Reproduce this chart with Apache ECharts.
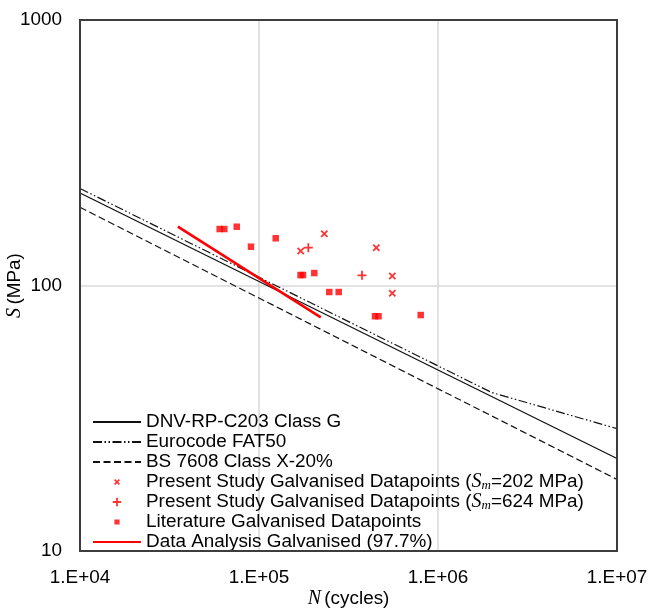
<!DOCTYPE html>
<html>
<head>
<meta charset="utf-8">
<script src="https://cdn.jsdelivr.net/npm/echarts@6/dist/echarts.min.js"></script>
<style>
  html, body { margin: 0; padding: 0; background: #fff; }
  #main { width: 649px; height: 609px; }
</style>
</head>
<body>
<div id="main"></div>
<script>
// design curves, [N, S]
const dnvClassG = [[1e4, 223], [1e7, 22.3]];
const eurocodeFat50 = [[1e4, 232], [2e6, 39.5], [1e7, 28.9]];
const bs7608X20 = [[1e4, 197], [1e7, 18.6]];
const analysisGalv = [[35200, 166.5], [221400, 75.9]];

// test points, [N, S]
const presentSm202 = [[171000, 134.9], [231700, 156.7], [452300, 138.8], [555500, 108.6], [555500, 93.5]];
const presentSm624 = [[188600, 138.8], [376200, 109.2]];
const literaturePts = [
  [60300, 163.2], [64000, 163.2], [75100, 166.5], [90200, 140.0], [124000, 150.6],
  [170600, 109.5], [176100, 109.5], [203700, 111.4], [247000, 94.5], [278800, 94.5],
  [444600, 76.6], [465200, 76.6], [800700, 77.4]
];

const xTickLabels = ['1.E+04', '1.E+05', '1.E+06', '1.E+07'];
const yTickLabels = ['10', '100', '1000'];

const FONT = 'Liberation Sans';
const SERIF = 'Liberation Serif';
const RED = '#ff0000';
const FS = 18.9;
const G = { left: 80, right: 32, top: 20, bottom: 58 };

// marker shapes (filled paths so they keep their proportions)
const plusPath = 'path://M4,0H6V4H10V6H6V10H4V6H0V4H4Z';
const crossPath = 'path://M0,1.7L1.7,0L5,3.3L8.3,0L10,1.7L6.7,5L10,8.3L8.3,10L5,6.7L1.7,10L0,8.3L3.3,5Z';
const squarePath = 'path://M0,0H10V10H0Z';
// legend versions, padded with tiny corner dots so they come out smaller
const pad = 'M0,0h0.01v0.01h-0.01ZM10,10h0.01v0.01h-0.01Z';
const plusIcon = 'path://' + pad + 'M4.1,0.8H5.9V4.1H9.2V5.9H5.9V9.2H4.1V5.9H0.8V4.1H4.1Z';
const crossIcon = 'path://' + pad + 'M2,3.2L3.2,2L5,3.8L6.8,2L8,3.2L6.2,5L8,6.8L6.8,8L5,6.2L3.2,8L2,6.8L3.8,5Z';
const squareIcon = 'path://' + pad + 'M2.4,2.4H7.6V7.6H2.4Z';
const noDot = { color: 'rgba(0,0,0,0)', borderWidth: 0 };

const rich = {
  t: { fontFamily: FONT, fontSize: FS, lineHeight: 20, color: '#000' },
  i: { fontFamily: SERIF, fontStyle: 'italic', fontSize: 20, lineHeight: 20, color: '#000' },
  sub: { fontFamily: SERIF, fontStyle: 'italic', fontSize: 13, lineHeight: 12, verticalAlign: 'bottom', color: '#000' }
};

const NAME_202 = 'Present Study Galvanised Datapoints (Sm=202 MPa)';
const NAME_624 = 'Present Study Galvanised Datapoints (Sm=624 MPa)';

const chart = echarts.init(document.getElementById('main'));

chart.setOption({
  animation: false,
  textStyle: { fontFamily: FONT },
  grid: {
    left: G.left, right: G.right, top: G.top, bottom: G.bottom,
    outerBoundsMode: 'none',
    containLabel: false
  },
  // plot frame, drawn above the grid lines
  graphic: [{
    type: 'rect', z: 100, silent: true,
    shape: { x: G.left, y: G.top, width: 649 - G.left - G.right, height: 609 - G.top - G.bottom },
    style: { fill: null, stroke: '#3d3d3d', lineWidth: 2 }
  }],
  legend: {
    orient: 'vertical',
    left: 92,
    top: 412,
    padding: 0,
    itemGap: 0,
    itemWidth: 48,
    itemHeight: 10,
    textStyle: { fontFamily: FONT, fontSize: FS, lineHeight: 20, color: '#000', rich },
    formatter(name) {
      if (name === NAME_202 || name === NAME_624) {
        const sm = name === NAME_202 ? '202' : '624';
        return '{t|Present Study Galvanised Datapoints (}{i|S}{sub|m}{t|=' + sm + ' MPa)}';
      }
      return '{t|' + name + '}';
    },
    data: [
      { name: 'DNV-RP-C203 Class G', itemStyle: noDot },
      { name: 'Eurocode FAT50', itemStyle: noDot },
      { name: 'BS 7608 Class X-20%', itemStyle: noDot },
      { name: NAME_202, icon: crossIcon },
      { name: NAME_624, icon: plusIcon },
      { name: 'Literature Galvanised Datapoints', icon: squareIcon },
      { name: 'Data Analysis Galvanised (97.7%)', itemStyle: noDot }
    ]
  },
  xAxis: {
    type: 'log', logBase: 10, min: 1e4, max: 1e7,
    name: '{i|N} {t|(cycles)}',
    nameLocation: 'middle',
    nameGap: 38,
    nameMoveOverlap: false,
    nameTextStyle: { rich },
    axisLine: { show: false },
    axisTick: { show: false },
    axisLabel: {
      fontSize: FS, color: '#000', margin: 17,
      formatter: v => xTickLabels[Math.round(Math.log10(v)) - 4]
    },
    splitLine: { show: true, lineStyle: { color: '#d9d9d9', width: 1.5 } }
  },
  yAxis: {
    type: 'log', logBase: 10, min: 10, max: 1000,
    name: '{i|S} {t|(MPa)}',
    nameLocation: 'middle',
    nameGap: 55,
    nameMoveOverlap: false,
    nameTextStyle: { rich },
    axisLine: { show: false },
    axisTick: { show: false },
    axisLabel: {
      fontSize: FS, color: '#000', margin: 18,
      formatter: v => yTickLabels[Math.round(Math.log10(v)) - 1]
    },
    splitLine: { show: true, lineStyle: { color: '#d9d9d9', width: 1.5 } }
  },
  series: [
    {
      name: 'DNV-RP-C203 Class G', type: 'line', data: dnvClassG,
      symbol: 'none', color: '#111',
      lineStyle: { color: '#111', width: 1.3 }
    },
    {
      name: 'Eurocode FAT50', type: 'line', data: eurocodeFat50,
      symbol: 'none', color: '#111',
      lineStyle: { color: '#111', width: 1.2, type: [9, 2.5, 1.5, 2.5, 1.5, 2.5] }
    },
    {
      name: 'BS 7608 Class X-20%', type: 'line', data: bs7608X20,
      symbol: 'none', color: '#111',
      lineStyle: { color: '#111', width: 1.2, type: [7, 3.5] }
    },
    {
      name: 'Data Analysis Galvanised (97.7%)', type: 'line', data: analysisGalv,
      symbol: 'none', color: RED,
      lineStyle: { color: RED, width: 2.6 }
    },
    {
      name: NAME_202, type: 'scatter', data: presentSm202,
      symbol: crossPath, symbolSize: 7.5, symbolKeepAspect: true,
      itemStyle: { color: RED }, z: 5
    },
    {
      name: NAME_624, type: 'scatter', data: presentSm624,
      symbol: plusPath, symbolSize: 9, symbolKeepAspect: true,
      itemStyle: { color: RED }, z: 5
    },
    {
      name: 'Literature Galvanised Datapoints', type: 'scatter', data: literaturePts,
      symbol: squarePath, symbolSize: 6.5, symbolKeepAspect: true,
      itemStyle: { color: RED }, z: 5
    }
  ]
});
</script>
</body>
</html>
